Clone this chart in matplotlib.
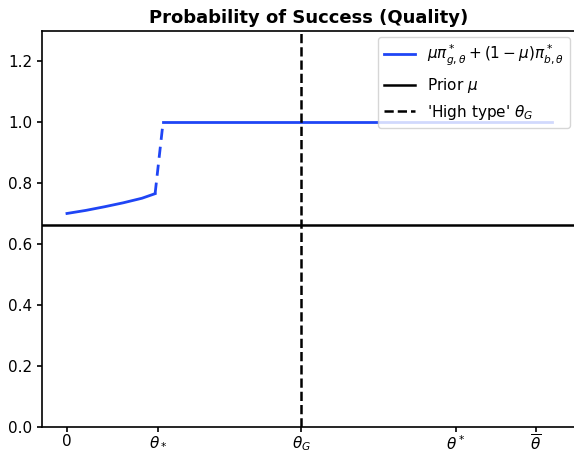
import matplotlib.pyplot as plt
import numpy as np

# Type thresholds on the theta axis (theta_bar normalised to 1).
theta_low = 0.194
theta_G = 0.5
theta_high = 0.829
theta_bar = 1.0
tick_labels = ['0', r'$\theta_*$', r'$\theta_G$', r'$\theta^*$', r'$\overline{\theta}$']

prior_mu = 0.662

# Success probability below the lower threshold (increasing, mildly convex).
theta_pool = [0.0, 0.04, 0.08, 0.12, 0.16, 0.188]
prob_pool = [0.701, 0.711, 0.723, 0.736, 0.751, 0.766]

# Jump up to certainty, then flat.
theta_jump = [0.188, 0.205]
prob_jump = [0.766, 1.0]
theta_sep = [0.205, 1.034]
prob_sep = [1.0, 1.0]

blue = '#1f45f5'


def plot():
    fig = plt.figure(figsize=(5.74, 4.54), dpi=100)
    ax = fig.add_axes([42 / 574, 27 / 454, 534 / 574, 396 / 454])

    ax.plot(theta_pool, prob_pool, color=blue, lw=2,
            label=r'$\mu\pi^*_{g,\theta}+(1-\mu)\pi^*_{b,\theta}$')
    ax.plot(theta_jump, prob_jump, color=blue, lw=2, linestyle=(0, (4, 2.5)))
    ax.plot(theta_sep, prob_sep, color=blue, lw=2)
    ax.axhline(prior_mu, color='black', lw=1.8, label=r'Prior $\mu$')
    ax.axvline(theta_G, color='black', lw=1.8, linestyle='--',
               label=r"'High type' $\theta_G$")

    ax.set_xlim(-0.0533, 1.086)
    ax.set_ylim(0, 1.3)
    ax.set_xticks([0, theta_low, theta_G, theta_high, theta_bar])
    ax.set_xticklabels(tick_labels)
    ax.set_yticks(np.arange(0, 1.21, 0.2))
    ax.tick_params(labelsize=11, width=1.2)
    ax.tick_params(axis='x', pad=1.5)
    for side in ax.spines.values():
        side.set_linewidth(1.2)

    ax.set_title('Probability of Success (Quality)', fontweight='bold',
                 fontsize=13)
    ax.legend(loc='upper right', fontsize=11, borderaxespad=0.4)

    fig.savefig('out.png', dpi=100)


if __name__ == '__main__':
    plot()
